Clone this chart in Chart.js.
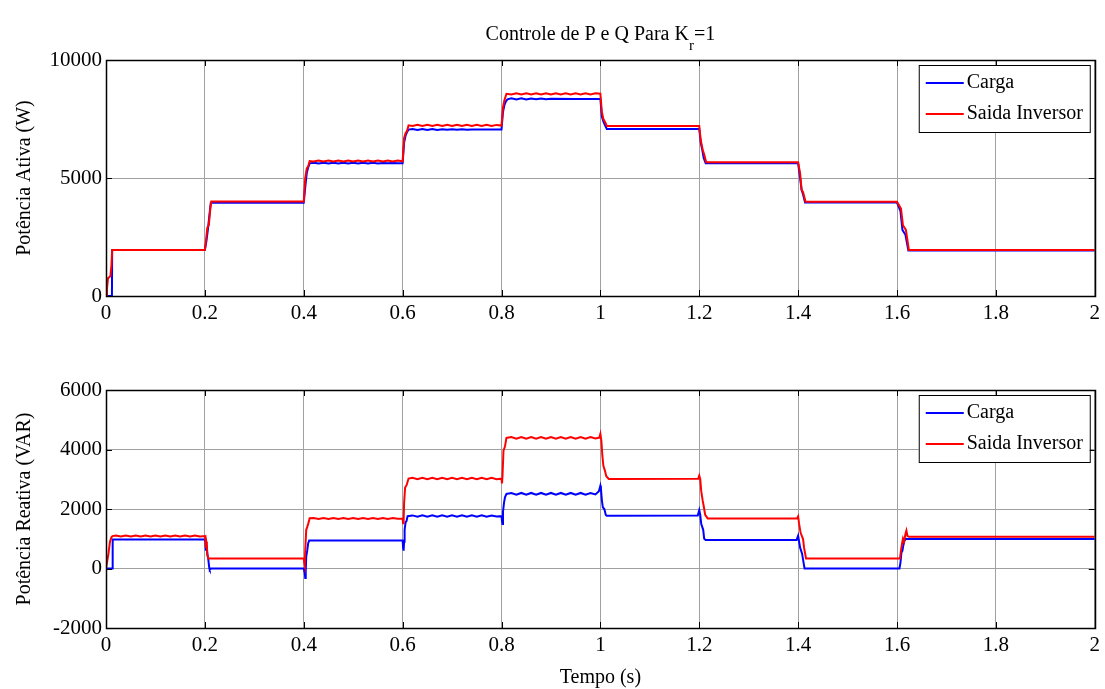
<!DOCTYPE html>
<html>
<head>
<meta charset="utf-8">
<script src="https://cdn.jsdelivr.net/npm/chart.js@4/dist/chart.umd.min.js"></script>
<style>
  body { margin: 0; background: #fff; }
  .box { position: absolute; left: 0; width: 1105px; }
</style>
</head>
<body>
<div class="box" style="top:0"><canvas id="ativa" width="1105" height="330"></canvas></div>
<div class="box" style="top:330px"><canvas id="reativa" width="1105" height="359"></canvas></div>
<script>
// tempo (s) x valor
const xTickLabels = ['0', '0.2', '0.4', '0.6', '0.8', '1', '1.2', '1.4', '1.6', '1.8', '2'];
const pTickLabels = ['0', '5000', '10000'];
const qTickLabels = ['-2000', '0', '2000', '4000', '6000'];

const pCarga = [
  [0,0],[0.012,0],[0.0125,1945],[0.2,1945],[0.203,2300],[0.206,2800],[0.209,3400],[0.212,3950],[0.4,3950],
  [0.403,4600],[0.406,5200],[0.409,5450],[0.412,5620],
  [0.42,5650],[0.43,5610],[0.44,5650],[0.45,5610],[0.46,5650],[0.47,5610],[0.48,5650],[0.49,5610],[0.5,5650],
  [0.51,5610],[0.52,5650],[0.53,5610],[0.54,5650],[0.55,5610],[0.56,5640],[0.57,5620],[0.58,5640],[0.59,5620],
  [0.6,5620],[0.603,6500],[0.606,6800],[0.609,6950],[0.612,7050],
  [0.62,7080],[0.63,7030],[0.64,7080],[0.65,7030],[0.66,7080],[0.67,7030],[0.68,7070],[0.69,7040],[0.7,7070],
  [0.71,7040],[0.72,7070],[0.73,7040],[0.74,7060],[0.75,7050],[0.8,7050],
  [0.803,7800],[0.806,8100],[0.809,8250],[0.812,8330],
  [0.82,8380],[0.83,8330],[0.84,8380],[0.85,8330],[0.86,8370],[0.87,8340],[0.88,8370],[0.89,8340],[0.9,8360],[0.95,8350],[1.0,8350],
  [1.003,7600],[1.006,7400],[1.009,7250],[1.013,7080],[1.2,7080],
  [1.203,6500],[1.206,6200],[1.209,5850],[1.213,5620],[1.4,5620],
  [1.404,5000],[1.407,4500],[1.41,4300],[1.414,3960],[1.6,3960],
  [1.607,3600],[1.611,2800],[1.617,2600],[1.623,1930],[2,1930]
];

const pInversor = [
  [0,0],[0.002,300],[0.004,750],[0.007,800],[0.009,850],[0.011,1300],[0.0125,1950],[0.2,1950],
  [0.202,2300],[0.205,2900],[0.208,3000],[0.211,3700],[0.213,4000],[0.4,4000],
  [0.403,5000],[0.406,5400],[0.409,5500],[0.412,5720],
  [0.42,5700],[0.43,5740],[0.44,5700],[0.45,5740],[0.46,5700],[0.47,5740],[0.48,5700],[0.49,5740],[0.5,5700],
  [0.51,5740],[0.52,5700],[0.53,5740],[0.54,5700],[0.55,5740],[0.56,5700],[0.57,5740],[0.58,5700],[0.59,5740],
  [0.6,5710],[0.603,6700],[0.606,6900],[0.609,7000],[0.612,7230],
  [0.62,7200],[0.63,7250],[0.64,7200],[0.65,7250],[0.66,7200],[0.67,7250],[0.68,7200],[0.69,7250],[0.7,7200],
  [0.71,7250],[0.72,7200],[0.73,7250],[0.74,7200],[0.75,7250],[0.76,7200],[0.77,7250],[0.78,7200],[0.79,7250],
  [0.8,7220],[0.803,8000],[0.806,8300],[0.81,8570],
  [0.82,8540],[0.83,8590],[0.84,8540],[0.85,8590],[0.86,8540],[0.87,8590],[0.88,8540],[0.89,8590],[0.9,8540],
  [0.91,8590],[0.92,8540],[0.93,8590],[0.94,8540],[0.95,8590],[0.96,8540],[0.97,8590],[0.98,8540],[0.99,8590],
  [1.0,8570],[1.003,7800],[1.006,7500],[1.01,7350],[1.013,7200],[1.2,7200],
  [1.203,6600],[1.207,6200],[1.21,6000],[1.214,5670],[1.4,5670],
  [1.404,5200],[1.407,4500],[1.41,4400],[1.415,3990],[1.6,3990],
  [1.608,3700],[1.612,3000],[1.618,2800],[1.624,1950],[2,1950]
];

const qCarga = [
  [0,0],[0.013,0],[0.0135,975],[0.2,975],
  [0.201,900],[0.202,600],[0.203,800],[0.205,500],[0.207,300],[0.209,0],[0.21,-40],[0.212,0],[0.4,0],
  [0.402,-150],[0.403,-320],[0.404,-100],[0.405,400],[0.407,600],[0.409,850],[0.411,940],[0.6,940],
  [0.601,700],[0.602,600],[0.603,900],[0.604,1300],[0.606,1550],[0.608,1600],[0.61,1760],
  [0.62,1785],[0.63,1740],[0.64,1785],[0.65,1740],[0.66,1785],[0.67,1740],[0.68,1785],[0.69,1740],[0.7,1785],
  [0.71,1740],[0.72,1785],[0.73,1740],[0.74,1785],[0.75,1740],[0.76,1785],[0.77,1740],[0.78,1780],[0.79,1750],
  [0.8,1760],[0.801,1600],[0.802,1495],[0.803,1900],[0.805,2200],[0.807,2390],[0.81,2505],
  [0.82,2540],[0.83,2480],[0.84,2540],[0.85,2480],[0.86,2540],[0.87,2480],[0.88,2540],[0.89,2480],[0.9,2540],
  [0.91,2480],[0.92,2540],[0.93,2480],[0.94,2540],[0.95,2480],[0.96,2540],[0.97,2480],[0.98,2540],[0.99,2490],
  [0.997,2600],[1.0,2785],[1.001,2700],[1.003,2300],[1.005,2055],[1.008,2000],[1.011,1800],[1.013,1775],[1.197,1780],
  [1.2,1965],[1.202,1800],[1.204,1500],[1.206,1400],[1.208,1300],[1.21,1000],[1.213,955],[1.397,960],
  [1.4,1100],[1.402,900],[1.404,700],[1.406,600],[1.408,500],[1.41,300],[1.413,0],[1.605,0],
  [1.607,200],[1.609,540],[1.611,600],[1.613,800],[1.615,930],[1.618,1000],[1.62,990],[2,990]
];

const qInversor = [
  [0,0],[0.002,0],[0.005,500],[0.008,900],[0.011,1050],[0.013,1090],
  [0.02,1110],[0.03,1075],[0.04,1110],[0.05,1075],[0.06,1110],[0.07,1075],[0.08,1110],[0.09,1075],[0.1,1110],
  [0.11,1075],[0.12,1110],[0.13,1075],[0.14,1110],[0.15,1075],[0.16,1110],[0.17,1075],[0.18,1110],[0.19,1075],
  [0.2,1090],[0.201,1000],[0.202,700],[0.203,900],[0.204,800],[0.205,450],[0.207,340],[0.4,340],
  [0.401,200],[0.402,120],[0.403,600],[0.405,1300],[0.407,1390],[0.409,1500],[0.412,1690],
  [0.42,1700],[0.43,1665],[0.44,1700],[0.45,1665],[0.46,1700],[0.47,1665],[0.48,1700],[0.49,1665],[0.5,1700],
  [0.51,1665],[0.52,1700],[0.53,1665],[0.54,1700],[0.55,1665],[0.56,1700],[0.57,1665],[0.58,1700],[0.59,1670],
  [0.6,1680],[0.601,1525],[0.602,1600],[0.603,2200],[0.605,2720],[0.608,2800],[0.612,3025],
  [0.62,3050],[0.63,3000],[0.64,3050],[0.65,3000],[0.66,3050],[0.67,3000],[0.68,3050],[0.69,3000],[0.7,3050],
  [0.71,3000],[0.72,3050],[0.73,3000],[0.74,3050],[0.75,3000],[0.76,3050],[0.77,3000],[0.78,3050],[0.79,3000],
  [0.8,3020],[0.801,2860],[0.802,3100],[0.804,3960],[0.807,4100],[0.81,4390],
  [0.82,4420],[0.83,4360],[0.84,4420],[0.85,4360],[0.86,4420],[0.87,4360],[0.88,4420],[0.89,4360],[0.9,4420],
  [0.91,4360],[0.92,4420],[0.93,4360],[0.94,4420],[0.95,4360],[0.96,4420],[0.97,4360],[0.98,4420],[0.99,4370],
  [0.998,4400],[1.0,4525],[1.002,4300],[1.004,3800],[1.006,3458],[1.009,3300],[1.012,3100],[1.017,3010],[1.198,3020],
  [1.2,3120],[1.202,3000],[1.204,2600],[1.207,2280],[1.209,2100],[1.212,1800],[1.217,1683],[1.398,1690],
  [1.4,1750],[1.402,1500],[1.405,1200],[1.41,990],[1.412,700],[1.416,337],[1.606,340],
  [1.608,600],[1.61,820],[1.612,1000],[1.614,900],[1.617,1150],[1.619,1270],[1.621,1100],[1.624,1067],[2,1067]
];

const fonte = 'Liberation Serif';
const tam = 20;
const tamTick = 21;

const moldura = {
  id: 'moldura',
  afterDatasetsDraw(chart) {
    const { ctx, chartArea: a, scales } = chart;
    ctx.save();
    ctx.strokeStyle = '#000';
    ctx.lineWidth = 1;
    ctx.beginPath();
    scales.x.ticks.forEach(t => {
      const x = Math.round(scales.x.getPixelForValue(t.value)) + 0.5;
      ctx.moveTo(x, a.bottom); ctx.lineTo(x, a.bottom - 6);
      ctx.moveTo(x, a.top); ctx.lineTo(x, a.top + 6);
    });
    scales.y.ticks.forEach(t => {
      const y = Math.round(scales.y.getPixelForValue(t.value)) + 0.5;
      ctx.moveTo(a.left, y); ctx.lineTo(a.left + 6, y);
      ctx.moveTo(a.right, y); ctx.lineTo(a.right - 6, y);
    });
    ctx.stroke();
    ctx.lineWidth = 1.5;
    ctx.strokeRect(Math.round(a.left) + 0.5, Math.round(a.top) + 0.5, Math.round(a.right - a.left), Math.round(a.bottom - a.top));
    // legenda
    const bx = a.right - 176, by = a.top + 5, bw = 171, bh = 67;
    ctx.lineWidth = 1;
    ctx.fillStyle = '#fff';
    ctx.fillRect(bx, by, bw, bh);
    ctx.strokeRect(bx + 0.5, by + 0.5, bw, bh);
    ctx.font = tam + 'px "' + fonte + '"';
    ctx.textBaseline = 'middle';
    chart.data.datasets.forEach((ds, i) => {
      const y = by + 18 + i * 31;
      ctx.strokeStyle = ds.borderColor;
      ctx.lineWidth = 2;
      ctx.beginPath();
      ctx.moveTo(bx + 7, y); ctx.lineTo(bx + 45, y);
      ctx.stroke();
      ctx.fillStyle = '#000';
      ctx.fillText(ds.label, bx + 48, y);
    });
    ctx.restore();
  }
};

const titulo = {
  id: 'titulo',
  afterDraw(chart) {
    const { ctx, chartArea: a } = chart;
    const t1 = 'Controle de P e Q Para K', sub = 'r', t2 = '=1';
    ctx.save();
    ctx.fillStyle = '#000';
    ctx.textBaseline = 'alphabetic';
    ctx.font = tam + 'px "' + fonte + '"';
    const w1 = ctx.measureText(t1).width, w3 = ctx.measureText(t2).width;
    ctx.font = '15px "' + fonte + '"';
    const w2 = ctx.measureText(sub).width;
    let x = (a.left + a.right) / 2 - (w1 + w2 + w3) / 2;
    ctx.font = tam + 'px "' + fonte + '"';
    ctx.fillText(t1, x, 40);
    ctx.font = '15px "' + fonte + '"';
    ctx.fillText(sub, x + w1, 50);
    ctx.font = tam + 'px "' + fonte + '"';
    ctx.fillText(t2, x + w1 + w2, 40);
    ctx.restore();
  }
};

function grafico(id, carga, inversor, yMin, yMax, yStep, yLabels, yTitulo, xAltura, xTitulo) {
  const ctx = document.getElementById(id).getContext('2d');
  return new Chart(ctx, {
    type: 'line',
    data: {
      datasets: [{
        label: 'Carga',
        data: carga.map(p => ({ x: p[0], y: p[1] })),
        borderColor: '#0000ff',
        borderWidth: 2,
        pointRadius: 0,
        tension: 0,
        fill: false,
        order: 2
      }, {
        label: 'Saida Inversor',
        data: inversor.map(p => ({ x: p[0], y: p[1] })),
        borderColor: '#ff0000',
        borderWidth: 2,
        pointRadius: 0,
        tension: 0,
        fill: false,
        order: 1
      }]
    },
    options: {
      responsive: false,
      animation: false,
      layout: { padding: { top: 60, right: 8, left: 0, bottom: 0 } },
      plugins: { legend: { display: false }, tooltip: { enabled: false } },
      scales: {
        x: {
          type: 'linear',
          min: 0,
          max: 2,
          ticks: {
            stepSize: 0.2,
            padding: 5,
            color: '#000',
            font: { family: fonte, size: tamTick },
            maxRotation: 0,
            callback: (v, i) => xTickLabels[i]
          },
          grid: { color: '#a0a0a0', lineWidth: 1, drawTicks: false },
          border: { display: false },
          title: { display: !!xTitulo, text: xTitulo, color: '#000', font: { family: fonte, size: tam, lineHeight: 1.1 }, padding: { top: 0, bottom: 0 } },
          afterFit: s => { s.height = xAltura; }
        },
        y: {
          min: yMin,
          max: yMax,
          ticks: {
            stepSize: yStep,
            padding: 4,
            color: '#000',
            font: { family: fonte, size: tamTick },
            callback: (v, i) => yLabels[i]
          },
          grid: { color: '#a0a0a0', lineWidth: 1, drawTicks: false },
          border: { display: false },
          title: { display: true, text: yTitulo, color: '#000', font: { family: fonte, size: tam }, padding: { top: 13, bottom: 0 } },
          afterFit: s => { s.width = 106; }
        }
      }
    },
    plugins: id === 'ativa' ? [moldura, titulo] : [moldura]
  });
}

grafico('ativa', pCarga, pInversor, 0, 10000, 5000, pTickLabels, 'Potência Ativa (W)', 34, '');
grafico('reativa', qCarga, qInversor, -2000, 6000, 2000, qTickLabels, 'Potência Reativa (VAR)', 61, 'Tempo (s)');
</script>
</body>
</html>
